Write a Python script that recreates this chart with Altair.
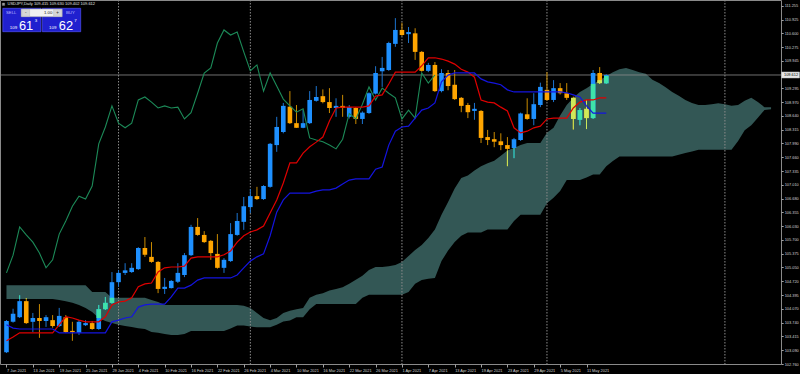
import altair as alt
import pandas as pd
import numpy as np

FONT = "Liberation Sans"

# ---------------- data ----------------
date_labels = ["7 Jan 2021", "13 Jan 2021", "19 Jan 2021", "25 Jan 2021", "29 Jan 2021",
               "4 Feb 2021", "10 Feb 2021", "16 Feb 2021", "22 Feb 2021", "26 Feb 2021",
               "4 Mar 2021", "10 Mar 2021", "16 Mar 2021", "22 Mar 2021", "26 Mar 2021",
               "1 Apr 2021", "7 Apr 2021", "13 Apr 2021", "19 Apr 2021", "23 Apr 2021",
               "29 Apr 2021", "5 May 2021", "11 May 2021"]
label_bars = [0, 4, 8, 12, 16, 20, 24, 28, 32, 36, 40, 44, 48, 52, 56, 60, 64, 68, 72, 76, 80, 84, 88]
month_separators = [17, 37, 60, 82, 109]

price_ticks = [111.255, 110.925, 110.600, 110.275, 109.945, 109.295, 108.970, 108.640,
               108.315, 107.990, 107.660, 107.335, 107.010, 106.680, 106.355, 106.030,
               105.700, 105.375, 105.050, 104.720, 104.395, 104.070, 103.740, 103.415,
               103.090, 102.760]
last_price = 109.612
header_text = "USDJPY,Daily  109.415 109.630 109.402 109.612"

opens = [103.04, 103.76, 103.87, 104.25, 103.76, 103.85, 103.78, 103.80, 103.66, 103.87,
         103.54, 103.50, 103.68, 103.73, 103.59, 104.06, 104.21, 104.70, 104.92, 104.94,
         105.01, 105.51, 105.30, 105.18, 104.54, 104.56, 104.71, 104.87, 105.34, 106.01,
         105.82, 105.68, 105.37, 105.04, 105.20, 105.82, 106.13, 106.48, 106.74, 106.67,
         106.96, 107.95, 108.26, 108.86, 108.47, 108.36, 108.47, 109.00, 109.11, 108.97,
         108.83, 108.88, 108.62, 108.83, 108.57, 108.71, 109.17, 109.70, 109.73, 110.35,
         110.68, 110.58, 110.60, 110.16, 109.71, 109.85, 109.23, 109.66, 109.38, 109.07,
         108.90, 108.76, 108.76, 108.14, 108.09, 108.04, 107.95, 107.88, 108.07, 108.68,
         108.57, 108.90, 109.26, 109.02, 109.30, 109.18, 109.07, 108.55, 108.81, 108.59,
         109.66, 109.415]
highs = [103.80, 104.07, 104.39, 104.32, 103.97, 104.18, 103.92, 103.92, 104.09, 103.92,
         103.76, 103.80, 103.80, 103.78, 104.16, 104.35, 104.94, 104.99, 105.15, 105.15,
         105.53, 105.77, 105.65, 105.20, 104.80, 104.75, 105.15, 105.39, 106.06, 106.22,
         105.91, 105.70, 105.84, 105.27, 106.10, 106.34, 106.72, 106.91, 106.96, 107.00,
         108.00, 108.62, 108.95, 109.23, 108.90, 108.78, 109.23, 109.35, 109.27, 109.30,
         109.06, 109.14, 108.90, 108.85, 108.75, 109.20, 109.82, 110.04, 110.40, 110.96,
         110.85, 110.75, 110.72, 110.18, 109.90, 109.92, 109.75, 109.73, 109.73, 109.09,
         108.95, 108.95, 108.78, 108.31, 108.26, 108.23, 108.14, 108.12, 108.72, 109.06,
         109.18, 109.43, 109.68, 109.49, 109.42, 109.42, 109.10, 108.83, 109.02, 109.73,
         109.80, 109.630]
lows = [103.02, 103.74, 103.85, 103.71, 103.52, 103.38, 103.64, 103.62, 103.64, 103.50,
        103.31, 103.45, 103.66, 103.57, 103.57, 104.04, 104.19, 104.59, 104.87, 104.92,
        104.99, 105.30, 105.16, 104.44, 104.42, 104.55, 104.68, 104.82, 105.32, 105.80,
        105.63, 105.23, 105.02, 104.92, 105.18, 105.80, 105.94, 106.34, 106.65, 106.65,
        106.94, 107.79, 108.23, 108.45, 108.36, 108.35, 108.45, 108.98, 108.94, 108.71,
        108.62, 108.62, 108.58, 108.45, 108.45, 108.69, 109.15, 109.33, 109.71, 110.28,
        110.54, 110.37, 109.97, 109.69, 109.68, 109.21, 109.20, 109.25, 109.02, 108.73,
        108.59, 108.55, 108.00, 107.95, 107.90, 107.83, 107.45, 107.64, 108.05, 108.55,
        108.42, 108.85, 109.00, 108.97, 109.15, 109.02, 108.32, 108.42, 108.33, 108.57,
        109.40, 109.402]
closes = [103.78, 103.95, 104.25, 103.73, 103.85, 103.78, 103.87, 103.66, 103.90, 103.52,
          103.52, 103.76, 103.73, 103.59, 104.06, 104.21, 104.70, 104.92, 104.98, 105.04,
          105.51, 105.35, 105.18, 104.54, 104.59, 104.73, 104.92, 105.34, 106.01, 105.82,
          105.65, 105.39, 105.04, 105.23, 105.84, 106.15, 106.50, 106.74, 106.67, 106.98,
          107.98, 108.38, 108.88, 108.47, 108.36, 108.47, 109.02, 109.09, 108.97, 108.83,
          108.88, 108.83, 108.85, 108.57, 108.72, 109.18, 109.66, 109.78, 110.37, 110.68,
          110.56, 110.63, 110.16, 109.71, 109.85, 109.23, 109.66, 109.35, 109.04, 108.88,
          108.73, 108.81, 108.12, 108.07, 108.03, 107.95, 107.86, 108.09, 108.70, 108.57,
          108.92, 109.33, 109.02, 109.30, 109.18, 109.07, 108.57, 108.78, 108.59, 109.66,
          109.42, 109.612]

tenkan = [103.31, 103.40, 103.50, 103.50, 103.50, 103.50, 103.50, 103.50,
          103.69, 103.88, 103.85, 103.80, 103.76, 103.76, 103.76, 103.88,
          104.16, 104.23, 104.25, 104.33, 104.59, 104.66, 104.68, 104.94,
          105.04, 105.06, 105.06, 105.08, 105.27, 105.30, 105.30, 105.30,
          105.30, 105.35, 105.44, 105.65, 105.80, 105.89, 105.94, 106.03,
          106.34, 106.65, 107.05, 107.53, 107.53, 107.76, 107.91, 108.02,
          108.14, 108.52, 108.83, 108.85, 108.85, 108.85, 108.85, 108.88,
          109.11, 109.14, 109.40, 109.68, 109.68, 109.68, 109.68, 109.83,
          110.02, 110.02, 109.99, 109.94, 109.87, 109.75, 109.68, 109.56,
          109.02, 108.97, 108.95, 108.85, 108.76, 108.36, 108.24, 108.28,
          108.36, 108.40, 108.57, 108.59, 108.59, 108.59, 108.83, 108.97,
          109.02, 109.02, 109.07, 109.07]
kijun = [103.69, 103.61, 103.59, 103.59, 103.59, 103.59, 103.59, 103.59,
         103.50, 103.50, 103.50, 103.50, 103.50, 103.50, 103.50, 103.50,
         103.76, 103.80, 103.85, 103.88, 104.11, 104.16, 104.18, 104.18,
         104.18, 104.35, 104.56, 104.56, 104.63, 104.75, 104.80, 104.80,
         104.80, 104.80, 104.80, 104.87, 105.04, 105.20, 105.30, 105.37,
         105.80, 106.36, 106.65, 106.81, 106.81, 106.81, 106.81, 106.86,
         106.89, 106.89, 106.93, 107.03, 107.12, 107.15, 107.15, 107.15,
         107.38, 107.43, 107.95, 108.28, 108.38, 108.40, 108.59, 108.78,
         108.83, 108.95, 109.45, 109.61, 109.66, 109.66, 109.66, 109.66,
         109.52, 109.45, 109.42, 109.38, 109.26, 109.21, 109.21, 109.21,
         109.21, 109.21, 109.21, 109.21, 109.21, 109.19, 109.14, 109.09,
         108.88, 108.71, 108.71, 108.71]

cloud_top = [104.63, 104.63, 104.63, 104.63, 104.63, 104.63, 104.63, 104.63, 104.63, 104.63,
             104.63, 104.63, 104.63, 104.47, 104.47, 104.47, 104.33, 104.33, 104.33, 104.33,
             104.33, 104.33, 104.28, 104.23, 104.16, 104.16, 104.16, 104.16, 104.16, 104.16,
             104.16, 104.16, 104.16, 104.16, 104.16, 104.16,
             104.14, 104.09, 103.97, 103.85, 103.80, 103.85, 103.97, 104.02, 104.06, 104.09,
             104.33, 104.40,
             104.44, 104.50, 104.54, 104.58, 104.66, 104.76, 104.85, 104.99, 105.06, 105.06,
             105.08, 105.11, 105.18, 105.32, 105.46, 105.58,
             105.75, 105.95, 106.30, 106.60, 106.92, 107.17, 107.23, 107.35, 107.45, 107.52,
             107.58, 107.70, 107.82, 107.88, 107.95, 108.00, 108.00, 108.00, 108.24, 108.36,
             108.65,
             108.90, 109.07, 109.21, 109.30, 109.40, 109.49, 109.59, 109.68, 109.75, 109.78,
             109.73,
             109.68, 109.64, 109.50, 109.42, 109.32, 109.21, 109.12, 109.02, 108.95, 108.90,
             108.90, 108.92, 108.94, 108.92, 108.88, 108.90, 109.00, 109.07, 108.97, 108.85,
             108.85]
cloud_bottom = [104.30, 104.30, 104.30, 104.30, 104.30, 104.30, 104.30, 104.30,
                104.28, 104.25, 104.21, 104.16, 104.09, 103.99, 103.85, 103.78, 103.73, 103.69,
                103.66, 103.64, 103.61, 103.59, 103.52, 103.50, 103.47, 103.45, 103.45, 103.47,
                103.54, 103.54, 103.54, 103.54, 103.54, 103.54, 103.60, 103.67, 103.67,
                103.65, 103.63, 103.63, 103.63, 103.69, 103.77, 103.79, 103.87, 103.87, 104.06,
                104.18,
                104.18, 104.18, 104.18, 104.18, 104.18, 104.18, 104.33, 104.40, 104.40, 104.40,
                104.40, 104.40, 104.40, 104.47, 104.66, 104.75, 104.78, 104.80,
                105.20, 105.45, 105.65, 105.80, 105.88, 105.88, 105.88, 105.95, 105.95, 105.95,
                105.95, 106.15, 106.30, 106.30, 106.30, 106.30, 106.57, 106.70, 106.86, 107.12,
                107.12, 107.12, 107.18, 107.25, 107.25, 107.45, 107.57, 107.68, 107.68, 107.68,
                107.68, 107.68, 107.68, 107.68, 107.68, 107.68, 107.72, 107.76, 107.80, 107.84,
                107.84, 107.84, 107.84, 107.84, 107.84, 108.05, 108.30, 108.42, 108.60, 108.78,
                108.80]

CHIKOU_SHIFT = 26

# ---------------- styling ----------------
BG = "#000000"
FRAME = "#8a8a8a"
TXT = "#d2d2d2"
BULL, BEAR = "#1e90ff", "#ffa500"
BULL_WICK, BEAR_WICK = "#1c74d0", "#c98a00"
BULL_X, BEAR_X = "#3ee3aa", "#cde95a"
CLOUD = "#335755"
RED, BLUE, GREEN = "#e00000", "#1414e0", "#1c8a58"
AX_FS = 3.9

P_LO, P_HI = 102.76, 111.39
I_LO, I_HI = -0.225, 116.75
W, H = 781, 364
PRICE_PER_PX = (P_HI - P_LO) / H

xs = alt.Scale(domain=[I_LO, I_HI], nice=False, zero=False)
ys = alt.Scale(domain=[P_LO, P_HI], nice=False, zero=False)

# ---------------- tables ----------------
n = len(opens)
c = pd.DataFrame({"i": np.arange(n), "open": opens, "high": highs, "low": lows, "close": closes})
c["bull"] = c["close"] >= c["open"]
c["blo"] = np.minimum(c["open"], c["close"])
c["bhi"] = np.maximum(c["open"], c["close"])
minh = 1.3 * PRICE_PER_PX
mid = (c["blo"] + c["bhi"]) / 2
small = (c["bhi"] - c["blo"]) < minh
c.loc[small, "blo"] = mid[small] - minh / 2
c.loc[small, "bhi"] = mid[small] + minh / 2

cl = pd.DataFrame({"i": np.arange(len(cloud_top)), "top": cloud_top, "bot": cloud_bottom})
cmin = np.minimum(cl["top"], cl["bot"]).iloc[:n].values
cmax = np.maximum(cl["top"], cl["bot"]).iloc[:n].values

# parts of candles lying inside the cloud (drawn in the XOR-like colours)
c["xblo"] = np.maximum(c["blo"], cmin)
c["xbhi"] = np.minimum(c["bhi"], cmax)
c["xwlo"] = np.maximum(c["low"], cmin)
c["xwhi"] = np.minimum(c["high"], cmax)
xb = c[c["xbhi"] > c["xblo"]]
xw = c[c["xwhi"] > c["xwlo"]]

lines = pd.DataFrame({"i": np.arange(n), "tenkan": tenkan, "kijun": kijun})
chik = pd.DataFrame({"i": np.arange(CHIKOU_SHIFT, n) - CHIKOU_SHIFT,
                     "v": closes[CHIKOU_SHIFT:]})
seps = pd.DataFrame({"i": month_separators})
lp = pd.DataFrame({"p": [last_price], "lo": [last_price - 3 * PRICE_PER_PX],
                   "hi": [last_price + 3 * PRICE_PER_PX]})

lab_arr = "[" + ",".join("'" + d + "'" for d in date_labels) + "]"

x_axis = alt.Axis(values=label_bars, labelExpr=lab_arr + "[round(datum.value/4)]",
                  labelAlign="left", labelBaseline="top", labelFlush=False,
                  labelOverlap=False, labelBound=False, labelPadding=1.4,
                  tickSize=3, tickColor="#a0a0a0", domain=False, grid=False,
                  labelColor=TXT, labelFont=FONT, labelFontSize=AX_FS, title=None)
y_axis = alt.Axis(orient="right", values=price_ticks, format=".3f", labelOverlap=False,
                  labelFlush=False, labelBound=False, labelPadding=1.0, tickSize=2.2,
                  tickColor="#a0a0a0", domain=False, grid=False, labelColor=TXT,
                  labelFont=FONT, labelFontSize=AX_FS, title=None)


def X(f):
    return alt.X(f, type="quantitative", scale=xs, axis=x_axis)


def Y(f):
    return alt.Y(f, type="quantitative", scale=ys, axis=y_axis)


# ---------------- layers ----------------
cloud = alt.Chart(cl).mark_area(color=CLOUD, opacity=1, clip=True, interpolate="linear").encode(
    x=X("i"), y=Y("top"), y2="bot:Q")

sep_layer = alt.Chart(seps).mark_rule(color="#8c8c8c", strokeWidth=1, strokeDash=[1.5, 1.5],
                                      clip=True).encode(x=X("i"))

price_line = alt.Chart(lp).mark_rule(color="#8c8c8c", strokeWidth=0.8, clip=True).encode(y=Y("p"))

wicks = alt.Chart(c).mark_rule(strokeWidth=1, clip=True).encode(
    x=X("i"), y=Y("low"), y2="high:Q",
    color=alt.condition(alt.datum.bull, alt.value(BULL_WICK), alt.value(BEAR_WICK)))

bodies = alt.Chart(c).mark_bar(size=4.6, clip=True, orient="vertical").encode(
    x=X("i"), y=Y("blo"), y2="bhi:Q",
    color=alt.condition(alt.datum.bull, alt.value(BULL), alt.value(BEAR)))

xwicks = alt.Chart(xw).mark_rule(strokeWidth=1, clip=True).encode(
    x=X("i"), y=Y("xwlo"), y2="xwhi:Q",
    color=alt.condition(alt.datum.bull, alt.value(BULL_X), alt.value(BEAR_X)))

xbodies = alt.Chart(xb).mark_bar(size=4.6, clip=True, orient="vertical").encode(
    x=X("i"), y=Y("xblo"), y2="xbhi:Q",
    color=alt.condition(alt.datum.bull, alt.value(BULL_X), alt.value(BEAR_X)))

chikou_l = alt.Chart(chik).mark_line(color=GREEN, strokeWidth=1.1, clip=True).encode(
    x=X("i"), y=Y("v"))
tenkan_l = alt.Chart(lines).mark_line(color=RED, strokeWidth=1.2, clip=True).encode(
    x=X("i"), y=Y("tenkan"))
kijun_l = alt.Chart(lines).mark_line(color=BLUE, strokeWidth=1.2, clip=True).encode(
    x=X("i"), y=Y("kijun"))

lp_box = alt.Chart(lp).mark_rect(fill="#e6e6e6", stroke="#bdbdbd", strokeWidth=0.5).encode(
    x=alt.value(781.5), x2=alt.value(799.5), y=Y("lo"), y2="hi:Q")
lp_text = alt.Chart(lp).mark_text(align="left", baseline="middle", font=FONT, fontSize=AX_FS,
                                  color="#000000").encode(
    x=alt.value(784.0), y=Y("p"), text=alt.Text("p:Q", format=".3f"))

one = pd.DataFrame({"k": [0]})


def label(text, x, y, size, color="#ffffff", weight="normal", baseline="middle", align="left"):
    return alt.Chart(one).mark_text(text=text, fontSize=size, color=color, fontWeight=weight,
                                    baseline=baseline, align=align, font=FONT).encode(
        x=alt.value(x), y=alt.value(y))


def box(x1, y1, x2, y2, fill, stroke, sw=0.6):
    return alt.Chart(one).mark_rect(fill=fill, stroke=stroke, strokeWidth=sw).encode(
        x=alt.value(x1), x2=alt.value(x2), y=alt.value(y1), y2=alt.value(y2))


ui = [
    box(2.3, 3.0, 4.7, 5.4, "#9a9a9a", "#9a9a9a", 0.3),
    label(header_text, 7.5, 4.3, 4.0, "#e0e0e0"),
    box(2.8, 8.3, 41.0, 31.7, "#2020cf", "#5a5aff"),
    box(42.3, 8.3, 80.7, 31.7, "#2020cf", "#5a5aff"),
    box(21.2, 9.0, 62.2, 16.7, "#f2f2f2", "#a0a0a0", 0.5),
    box(21.8, 9.4, 29.6, 16.3, "#d6d6d6", "#b0b0b0", 0.4),
    box(53.6, 9.4, 61.6, 16.3, "#d6d6d6", "#b0b0b0", 0.4),
    label("-", 25.7, 12.6, 4.5, "#303030", align="center"),
    label("+", 57.6, 12.8, 4.5, "#303030", align="center"),
    label("1.00", 52.3, 12.9, 4.3, "#202020", align="right"),
    label("SELL", 6.0, 13.0, 4.3, "#b8b8ff"),
    label("BUY", 66.0, 13.0, 4.3, "#b8b8ff"),
    label("109", 9.8, 28.6, 4.4, "#ffffff", baseline="alphabetic"),
    label("61", 19.0, 30.0, 12.8, "#ffffff", baseline="alphabetic"),
    label("3", 34.8, 21.0, 4.4, "#ffffff"),
    label("109", 49.0, 28.6, 4.4, "#ffffff", baseline="alphabetic"),
    label("62", 58.8, 30.0, 12.8, "#ffffff", baseline="alphabetic"),
    label("7", 74.2, 21.0, 4.4, "#ffffff"),
]

chart = alt.layer(
    cloud, sep_layer, price_line, wicks, bodies, xwicks, xbodies,
    chikou_l, tenkan_l, kijun_l, lp_box, lp_text, *ui
).properties(
    width=W, height=H,
    padding={"left": 0, "top": 0, "right": 19, "bottom": 10},
    autosize=alt.AutoSizeParams(type="none"),
    background=BG,
).configure_view(
    stroke=FRAME, strokeWidth=1, fill=BG
)

chart.save("out.html", embed_options={"renderer": "svg", "actions": False})
